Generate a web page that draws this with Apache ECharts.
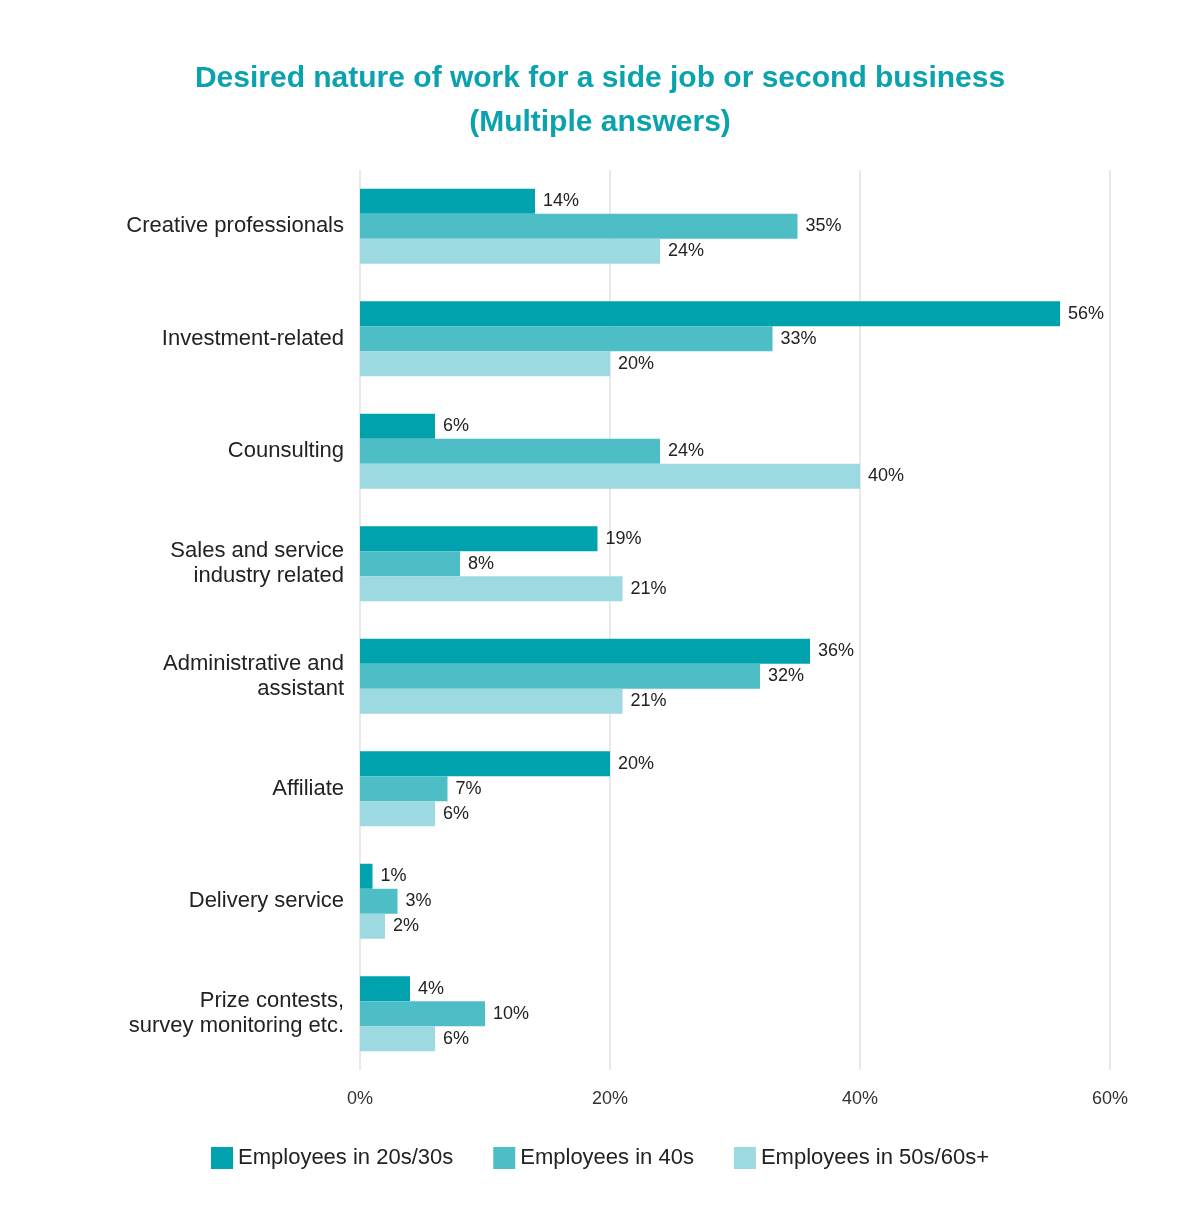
<!DOCTYPE html>
<html><head><meta charset="utf-8">
<script src="https://cdn.jsdelivr.net/npm/echarts@6/dist/echarts.min.js"></script>
<style>html,body{margin:0;background:#fff}#c{width:1200px;height:1220px}</style>
</head><body><div id="c"></div>
<script>
const categories = ["Creative professionals","Investment-related","Counsulting","Sales and service\nindustry related","Administrative and\nassistant","Affiliate","Delivery service","Prize contests,\nsurvey monitoring etc."];
const s2030 = [14,56,6,19,36,20,1,4];
const s40 = [35,33,24,8,32,7,3,10];
const s5060 = [24,20,40,21,21,6,2,6];
const seriesNames = ["Employees in 20s/30s","Employees in 40s","Employees in 50s/60s+"];
const colors = ["#00a3ad","#4dbdc6","#9dd9e0"];
const F = "Liberation Sans, Arial, sans-serif";
const mk = (name,data,color)=>({name,type:'bar',data,barWidth:25,barGap:'0%',barCategoryGap:'31.8%',
  itemStyle:{color},label:{show:true,position:'right',formatter:'{c}%',color:'#222',fontSize:18,fontFamily:F,distance:8}});
const chart = echarts.init(document.getElementById('c'));
chart.setOption({
  animation:false,
  title:{text:"Desired nature of work for a side job or second business\n(Multiple answers)",left:'center',top:52,
    textStyle:{color:'#0aa3ad',fontSize:30,fontWeight:'bold',fontFamily:F,lineHeight:44}},
  legend:{bottom:46,left:'center',itemWidth:22,itemHeight:22,itemGap:40,icon:'rect',
    textStyle:{fontSize:22,color:'#222',fontFamily:F}},
  grid:{left:360,right:90,top:170,bottom:150,containLabel:false},
  xAxis:{type:'value',min:0,max:60,interval:20,axisLabel:{formatter:'{value}%',fontSize:18,color:'#333',fontFamily:F,margin:20},
    splitLine:{lineStyle:{color:'#e2e2e2',width:1.5}},axisLine:{show:false},axisTick:{show:false}},
  yAxis:{type:'category',inverse:true,data:categories,axisLine:{show:false},axisTick:{show:false},
    axisLabel:{fontSize:22,color:'#222',fontFamily:F,margin:16,lineHeight:25}},
  series:[mk(seriesNames[0],s2030,colors[0]),mk(seriesNames[1],s40,colors[1]),mk(seriesNames[2],s5060,colors[2])]
});
</script></body></html>
